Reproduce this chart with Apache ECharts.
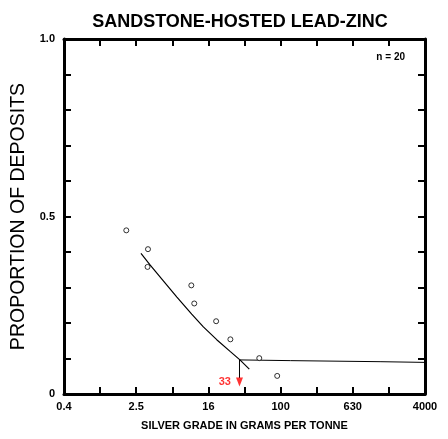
<!DOCTYPE html>
<html>
<head>
<meta charset="utf-8">
<script src="https://cdn.jsdelivr.net/npm/echarts@6/dist/echarts.min.js"></script>
<style>html,body{margin:0;padding:0;background:#fff;}#c{width:448px;height:439px;}</style>
</head>
<body>
<div id="c"></div>
<script>
// ---- data (silver grade in g/t, proportion of deposits) ----
var xTickLabels = ['0.4', '2.5', '16', '100', '630', '4000'];
var pointGrades = [1.96, 3.41, 3.37, 10.3, 11.1, 19.4, 27.9, 58.3, 92.1];
var pointProps  = [0.461, 0.408, 0.358, 0.306, 0.255, 0.205, 0.154, 0.101, 0.051];
var curveGrades = [2.85, 3.61, 5.07, 7.13, 10.4, 14.0, 19.7, 27.7, 35.6, 45.2];
var curveProps  = [0.396, 0.363, 0.318, 0.273, 0.225, 0.189, 0.153, 0.120, 0.096, 0.070];
var tailGrades  = [35.2, 130, 1300, 4000];
var tailProps   = [0.096, 0.094, 0.091, 0.089];
var markerGrade = 35.2;
var markerTop   = 0.096;
var markerBottom = 0.045;
var markerLabel = '33';
var nDeposits = 20;

// log scale: each axis step is a factor of 10^0.4 starting from 0.4
var base = 0.4, stepLog = 0.4;
function u(g) { return Math.log10(g / base) / stepLog; }
function pairs(xs, ys) { return xs.map(function (g, i) { return [u(g), ys[i]]; }); }

var font = "'Liberation Sans', Arial, Helvetica, sans-serif";
var chart = echarts.init(document.getElementById('c'), null, {renderer: 'canvas'});

var axisLine = {show: true, onZero: false, lineStyle: {color: '#000', width: 3}};
var axisTick = {show: true, inside: true, length: 7, lineStyle: {color: '#000', width: 2}};

chart.setOption({
  animation: false,
  backgroundColor: '#fff',
  grid: {left: 64, right: 23, top: 39, bottom: 45, containLabel: false},
  xAxis: [{
    type: 'value', min: 0, max: 10, interval: 1, position: 'bottom',
    axisLine: axisLine, axisTick: axisTick, splitLine: {show: false},
    axisLabel: {
      margin: 7, color: '#000', fontFamily: font, fontWeight: 'bold', fontSize: 11,
      formatter: function (v) { return (Math.round(v) % 2 === 0) ? xTickLabels[Math.round(v) / 2] : ''; }
    },
    name: 'SILVER GRADE IN GRAMS PER TONNE', nameLocation: 'middle', nameGap: 26,
    nameTextStyle: {color: '#000', fontFamily: font, fontWeight: 'bold', fontSize: 11}
  }, {
    type: 'value', min: 0, max: 10, interval: 1, position: 'top',
    axisLine: axisLine, axisTick: axisTick, splitLine: {show: false}, axisLabel: {show: false}
  }],
  yAxis: [{
    type: 'value', min: 0, max: 1, interval: 0.1, position: 'left',
    axisLine: axisLine, axisTick: axisTick, splitLine: {show: false},
    axisLabel: {
      margin: 9, color: '#000', fontFamily: font, fontWeight: 'bold', fontSize: 11,
      formatter: function (v) {
        if (Math.abs(v) < 1e-9) return '0';
        if (Math.abs(v - 0.5) < 1e-9) return '0.5';
        if (Math.abs(v - 1) < 1e-9) return '1.0';
        return '';
      }
    },
    name: 'PROPORTION OF DEPOSITS', nameLocation: 'middle', nameGap: 31, nameRotate: 90,
    nameTextStyle: {color: '#000', fontFamily: font, fontSize: 19.5}
  }, {
    type: 'value', min: 0, max: 1, interval: 0.1, position: 'right',
    axisLine: axisLine, axisTick: axisTick, splitLine: {show: false}, axisLabel: {show: false}
  }],
  graphic: [
    {type: 'text', x: 240, y: 22, style: {text: 'SANDSTONE-HOSTED LEAD-ZINC', font: 'bold 18px ' + font, fill: '#000', align: 'center', verticalAlign: 'middle'}},
    {type: 'text', x: 405, y: 57, style: {text: 'n = ' + nDeposits, font: 'bold 10px ' + font, fill: '#000', align: 'right', verticalAlign: 'middle'}}
  ],
  series: [
    {type: 'line', data: pairs(curveGrades, curveProps), smooth: false, symbol: 'none',
     lineStyle: {color: '#000', width: 1.2}, z: 2},
    {type: 'line', data: pairs(tailGrades, tailProps), symbol: 'none',
     lineStyle: {color: '#000', width: 1}, z: 2},
    {type: 'line', data: [[u(markerGrade), markerTop], [u(markerGrade), markerBottom]], symbol: 'none',
     lineStyle: {color: '#000', width: 1}, z: 2},
    {type: 'scatter', data: [[u(markerGrade), 0.034]], symbol: 'triangle', symbolRotate: 180, symbolSize: [7, 9],
     itemStyle: {color: '#ff0000'}, z: 3,
     label: {show: true, position: 'left', distance: 5, formatter: markerLabel, color: '#ff0000',
             fontFamily: font, fontWeight: 'bold', fontSize: 11}},
    {type: 'scatter', data: pairs(pointGrades, pointProps), symbol: 'circle', symbolSize: 5,
     itemStyle: {color: '#fff', borderColor: '#000', borderWidth: 1}, z: 4}
  ]
});
</script>
</body>
</html>
